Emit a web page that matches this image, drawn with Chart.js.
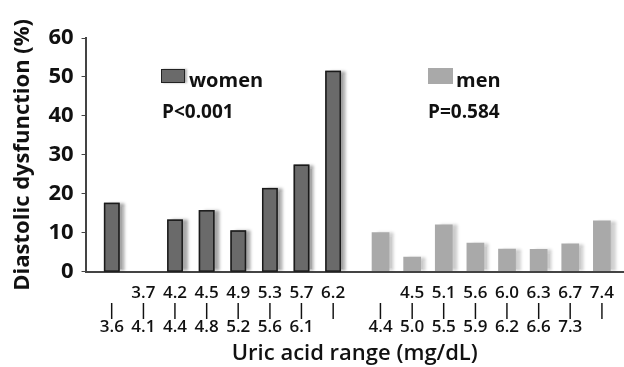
<!DOCTYPE html>
<html>
<head>
<meta charset="utf-8">
<script src="https://cdn.jsdelivr.net/npm/chart.js@4"></script>
<style>
html, body { margin: 0; padding: 0; background: #fff; }
#wrap { width: 624px; height: 367px; }
</style>
</head>
<body>
<div id="wrap"><canvas id="myChart"></canvas></div>
<script>
// uric acid ranges, upper row / lower row of each tick label
var womenTop = ['', '3.7', '4.2', '4.5', '4.9', '5.3', '5.7', '6.2'];
var womenBottom = ['3.6', '4.1', '4.4', '4.8', '5.2', '5.6', '6.1', ''];
var menTop = ['', '4.5', '5.1', '5.6', '6.0', '6.3', '6.7', '7.4'];
var menBottom = ['4.4', '5.0', '5.5', '5.9', '6.2', '6.6', '7.3', ''];

// diastolic dysfunction (%)
var women = [17.7, 0, 13.4, 15.8, 10.6, 21.5, 27.5, 51.6];
var men = [10.1, 3.8, 12.1, 7.4, 5.9, 5.8, 7.2, 13.1];

var womenP = 'P<0.001';
var menP = 'P=0.584';

var GROUP_GAP = 1.5; // slots between last women bar and first men bar
var menStart = women.length - 1 + GROUP_GAP;

var womenPts = women.map(function (v, i) { return { x: i, y: v }; });
var menPts = men.map(function (v, i) { return { x: menStart + i, y: v }; });
var tickPos = womenPts.map(function (p) { return p.x; }).concat(menPts.map(function (p) { return p.x; }));
var tickTop = womenTop.concat(menTop);
var tickBottom = womenBottom.concat(menBottom);

var FONT = "'Open Sans', 'Noto Sans', sans-serif";

// soft grey shadow on the right of each bar, black outline on the women bars
var shadowPlugin = {
  id: 'barShadow',
  beforeDatasetDraw: function (chart, args) {
    var ctx = chart.ctx;
    ctx.save();
    ctx.shadowColor = args.index === 0 ? 'rgba(0,0,0,0.35)' : 'rgba(0,0,0,0.2)';
    ctx.shadowOffsetX = 5;
    ctx.shadowOffsetY = 0;
    ctx.shadowBlur = 3;
  },
  afterDatasetDraw: function (chart, args) {
    var ctx = chart.ctx;
    ctx.restore();
    if (args.index !== 0) return;
    ctx.save();
    ctx.strokeStyle = '#1a1a1a';
    ctx.lineWidth = 1.5;
    args.meta.data.forEach(function (bar) {
      var h = bar.base - bar.y;
      if (h <= 0.5) return;
      ctx.strokeRect(bar.x - bar.width / 2 + 0.75, bar.y + 0.75, bar.width - 1.5, h - 0.75);
    });
    ctx.restore();
  }
};

var legendPlugin = {
  id: 'sexLegend',
  afterDraw: function (chart) {
    var ctx = chart.ctx;
    ctx.save();
    ctx.textBaseline = 'alphabetic';
    ctx.textAlign = 'left';
    // women
    ctx.shadowColor = 'rgba(0,0,0,0.3)';
    ctx.shadowOffsetX = 2;
    ctx.shadowBlur = 2;
    ctx.fillStyle = '#6a6a6a';
    ctx.fillRect(161, 69, 24, 14);
    ctx.shadowColor = 'transparent';
    ctx.strokeStyle = '#222';
    ctx.lineWidth = 1;
    ctx.strokeRect(161.5, 69.5, 23, 13);
    ctx.fillStyle = '#111';
    ctx.font = 'bold 20px ' + FONT;
    ctx.fillText('women', 189, 87);
    ctx.font = 'bold 19px ' + FONT;
    ctx.fillText(womenP, 162, 118);
    // men
    ctx.fillStyle = '#a9a9a9';
    ctx.fillRect(428, 68, 25, 16);
    ctx.fillStyle = '#111';
    ctx.font = 'bold 20px ' + FONT;
    ctx.fillText('men', 456, 87);
    ctx.font = 'bold 19px ' + FONT;
    ctx.fillText(menP, 428, 118);
    ctx.restore();
  }
};

var ctx = document.getElementById('myChart').getContext('2d');
var chart = new Chart(ctx, {
  type: 'bar',
  data: {
    datasets: [{
      label: 'women',
      data: womenPts,
      backgroundColor: '#6a6a6a',
      borderWidth: 0,
      grouped: false,
      categoryPercentage: 1,
      barPercentage: 0.5
    }, {
      label: 'men',
      data: menPts,
      backgroundColor: '#a9a9a9',
      borderWidth: 0,
      grouped: false,
      categoryPercentage: 1,
      barPercentage: 0.56
    }]
  },
  plugins: [shadowPlugin, legendPlugin],
  options: {
    responsive: true,
    maintainAspectRatio: false,
    animation: false,
    layout: { padding: { left: 10, top: 38, right: 0, bottom: 0 } },
    plugins: {
      legend: { display: false },
      tooltip: { enabled: false }
    },
    scales: {
      x: {
        type: 'linear',
        offset: false,
        min: -0.83,
        max: 16.2,
        afterBuildTicks: function (scale) {
          scale.ticks = tickPos.map(function (v) { return { value: v }; });
        },
        ticks: {
          autoSkip: false,
          maxRotation: 0,
          padding: 5,
          color: '#111',
          font: { family: FONT, size: 17, weight: '600', lineHeight: 1.0 },
          callback: function (value, index) {
            return [tickTop[index], '|', tickBottom[index]];
          }
        },
        grid: { display: false },
        border: { display: true, color: '#444', width: 2 },
        title: {
          display: true,
          text: 'Uric acid range (mg/dL)',
          color: '#111',
          font: { family: FONT, size: 22, weight: '600' },
          padding: { top: 0, bottom: 0 }
        }
      },
      y: {
        min: 0,
        max: 60,
        ticks: {
          stepSize: 10,
          padding: 8,
          color: '#111',
          font: { family: FONT, size: 22, weight: 'bold' }
        },
        grid: { drawOnChartArea: false, drawTicks: true, tickLength: 4, color: '#444' },
        border: { display: true, color: '#444', width: 2 },
        title: {
          display: true,
          text: 'Diastolic dysfunction (%)',
          color: '#111',
          font: { family: FONT, size: 22, weight: 'bold' },
          padding: { top: 0, bottom: 4 }
        }
      }
    }
  }
});
</script>
</body>
</html>
